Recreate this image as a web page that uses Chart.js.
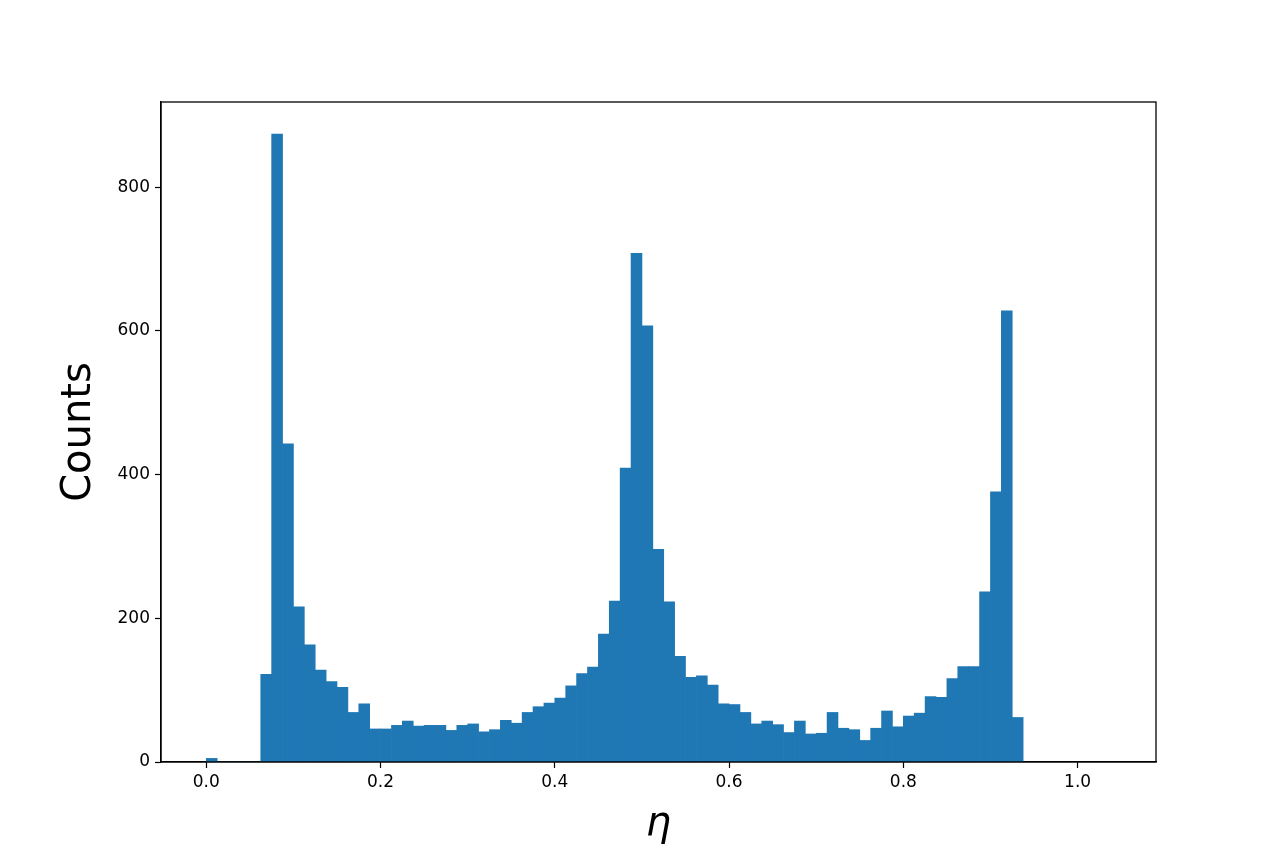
<!DOCTYPE html>
<html>
<head>
<meta charset="utf-8">
<script src="https://cdn.jsdelivr.net/npm/chart.js@4.4.1/dist/chart.umd.min.js"></script>
<style>
  html, body { margin: 0; padding: 0; background: #fff; }
  #wrap { width: 1284px; height: 856px; }
</style>
</head>
<body>
<div id="wrap"><canvas id="hist" width="1284" height="856"></canvas></div>
<script>
// histogram of eta, bins of width 0.0125 starting at 0
const binStart = 0;
const binWidth = 0.0125;
const counts = [
    5, 0, 0, 0, 0, 122, 874, 443, 216, 163,
    128, 112, 104, 69, 81, 46, 46, 51, 57, 50,
    51, 51, 44, 51, 53, 42, 45, 58, 54, 69,
    77, 82, 89, 106, 123, 132, 178, 224, 409, 708,
    607, 296, 223, 147, 118, 120, 107, 81, 80, 69,
    53, 57, 52, 41, 57, 39, 40, 69, 47, 45,
    30, 47, 71, 49, 64, 68, 91, 90, 116, 133,
    133, 237, 376, 628, 62
];
const xTicks = [0.0, 0.2, 0.4, 0.6, 0.8, 1.0];
const yTicks = [0, 200, 400, 600, 800];
const xLabel = 'η';
const yLabel = 'Counts';

const barData = counts.map((c, i) => ({ x: binStart + (i + 0.5) * binWidth, y: c }));

// top and right spines, like a matplotlib box
const frame = {
    id: 'frame',
    afterDraw(chart) {
        const { ctx, chartArea: a } = chart;
        ctx.save();
        ctx.strokeStyle = '#000';
        ctx.lineWidth = 1.3;
        ctx.strokeRect(a.left, a.top, a.right - a.left, a.bottom - a.top);
        ctx.restore();
    }
};

const tickFont = { family: 'DejaVu Sans', size: 17 };

new Chart(document.getElementById('hist'), {
    type: 'bar',
    data: {
        datasets: [{
            data: barData,
            backgroundColor: '#1f77b4',
            borderWidth: 0,
            barPercentage: 1,
            categoryPercentage: 1,
            grouped: false
        }]
    },
    options: {
        responsive: false,
        animation: false,
        layout: { padding: { left: 48, right: 128, top: 102, bottom: 0 } },
        plugins: {
            legend: { display: false },
            tooltip: { enabled: false }
        },
        scales: {
            x: {
                type: 'linear',
                offset: false,
                min: -0.052,
                max: 1.09,
                afterFit: (s) => { s.height = 94; },
                afterBuildTicks: (s) => { s.ticks = xTicks.map(v => ({ value: v })); },
                ticks: {
                    includeBounds: false,
                    autoSkip: false,
                    maxRotation: 0,
                    color: '#000',
                    font: tickFont,
                    padding: 4,
                    callback: (v) => v.toFixed(1)
                },
                grid: { display: true, offset: false, drawOnChartArea: false, drawTicks: true, tickLength: 6, color: '#000', tickWidth: 1.2 },
                border: { display: true, color: '#000', width: 1.3 },
                title: {
                    display: true,
                    text: xLabel,
                    color: '#000',
                    font: { family: 'DejaVu Sans', size: 40, style: 'italic' },
                    padding: { top: 0, bottom: 7 }
                }
            },
            y: {
                min: 0,
                max: 918.75,
                afterFit: (s) => { s.width = 113; },
                afterBuildTicks: (s) => { s.ticks = yTicks.map(v => ({ value: v })); },
                ticks: {
                    includeBounds: false,
                    color: '#000',
                    font: tickFont,
                    padding: 5,
                    callback: (v) => String(v)
                },
                grid: { display: true, drawOnChartArea: false, drawTicks: true, tickLength: 6, color: '#000', tickWidth: 1.2 },
                border: { display: true, color: '#000', width: 1.3 },
                title: {
                    display: true,
                    text: yLabel,
                    color: '#000',
                    font: { family: 'DejaVu Sans', size: 40 },
                    padding: { top: 8, bottom: 0 }
                }
            }
        }
    },
    plugins: [frame]
});
</script>
</body>
</html>
